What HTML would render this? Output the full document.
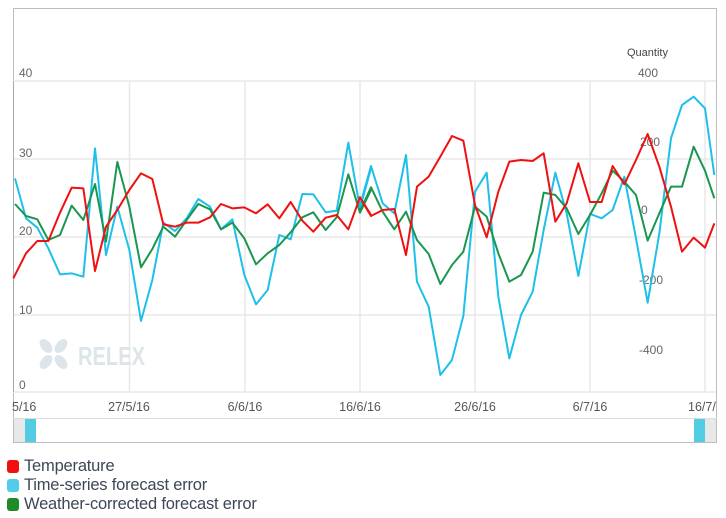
<!DOCTYPE html>
<html><head><meta charset="utf-8"><style>
body{margin:0;background:#fff;width:726px;height:518px;overflow:hidden;font-family:"Liberation Sans",sans-serif}
.lg{position:absolute;left:7px;font-size:16.5px;color:#3d4756;letter-spacing:-0.2px}
.lg i{display:inline-block;width:12px;height:13px;border-radius:3px;vertical-align:-2px;margin-right:5px}
</style></head><body>
<svg width="726" height="518" style="position:absolute;left:0;top:0" font-family="Liberation Sans, sans-serif">
<defs><clipPath id="c"><rect x="12" y="8" width="704" height="434"/></clipPath></defs>
<rect x="13.5" y="8.5" width="703" height="434" fill="#fff" stroke="#bdbdbd"/>
<g stroke="#e8e8e8" stroke-width="1.5">
<line x1="13" y1="81" x2="716" y2="81"/><line x1="13" y1="159" x2="716" y2="159"/>
<line x1="13" y1="237" x2="716" y2="237"/><line x1="13" y1="315" x2="716" y2="315"/>
<line x1="13" y1="392" x2="716" y2="392"/>
<line x1="129.5" y1="81" x2="129.5" y2="392"/><line x1="245" y1="81" x2="245" y2="392"/>
<line x1="360" y1="81" x2="360" y2="392"/><line x1="475" y1="81" x2="475" y2="392"/>
<line x1="590" y1="81" x2="590" y2="392"/><line x1="705" y1="81" x2="705" y2="392"/>
</g>
<line x1="13.5" y1="81" x2="13.5" y2="392" stroke="#aaa"/>
<g fill="#dbe5ea">
<text x="78" y="365" font-size="26" font-weight="bold" textLength="67" lengthAdjust="spacingAndGlyphs">RELEX</text>
<ellipse cx="46" cy="346" rx="5" ry="8" transform="rotate(-40 46 346)"/><ellipse cx="61" cy="346" rx="5" ry="8" transform="rotate(40 61 346)"/>
<ellipse cx="46" cy="362" rx="5" ry="8" transform="rotate(40 46 362)"/><ellipse cx="61" cy="362" rx="5" ry="8" transform="rotate(-40 61 362)"/>
</g>
<g font-size="12" fill="#666">
<text x="19" y="77">40</text><text x="19" y="157">30</text><text x="19" y="235">20</text><text x="19" y="314">10</text><text x="19" y="389">0</text>
<text x="627" y="56" font-size="11" fill="#444">Quantity</text>
<text x="638" y="77">400</text><text x="640" y="146">200</text><text x="641" y="214">0</text><text x="639" y="284">-200</text><text x="639" y="354">-400</text>
</g>
<g font-size="12.5" fill="#555" text-anchor="middle" clip-path="url(#c)">
<text x="12" y="411" text-anchor="start">5/16</text><text x="129" y="411">27/5/16</text><text x="245" y="411">6/6/16</text><text x="360" y="411">16/6/16</text><text x="475" y="411">26/6/16</text><text x="590" y="411">6/7/16</text><text x="688" y="411" text-anchor="start">16/7/16</text>
</g>
<g fill="none" stroke-width="2" stroke-linejoin="round" clip-path="url(#c)">
<g transform="translate(0,130) scale(0.33333)">
<polyline vector-effect="non-scaling-stroke" stroke="#1ec0ea" points="45,145 78,265 112,293 145,355 180,433 215,430 250,440 285,55 318,375 352,230 388,360 423,573 457,450 490,278 525,303 560,265 595,207 630,230 663,298 697,268 733,435 768,523 803,480 838,315 872,328 907,192 940,193 977,247 1010,242 1045,38 1080,235 1113,115"/>
<polyline vector-effect="non-scaling-stroke" stroke="#1a9650" points="45,222 78,258 112,268 145,330 180,315 215,227 250,270 285,162 318,335 352,96 388,230 423,412 457,357 490,290 525,320 560,270 595,222 630,238 663,298 697,278 733,325 768,403 803,370 838,345 872,307 907,262 940,247 977,300 1010,262 1045,133 1080,248 1113,180"/>
<polyline vector-effect="non-scaling-stroke" stroke="#f01010" points="40,445 78,370 112,333 145,333 180,248 215,173 250,175 285,423 318,290 352,240 388,180 423,130 457,147 490,283 525,290 560,278 595,278 630,262 663,222 697,235 733,232 768,250 803,223 838,265 872,216 907,272 940,305 977,263 1010,255 1045,298 1080,202 1113,255"/>
</g>
<g transform="translate(356,80) scale(0.33333)">
<polyline vector-effect="non-scaling-stroke" stroke="#1ec0ea" points="10,384 45,258 80,370 115,400 150,225 183,605 218,680 253,885 288,840 322,708 357,335 392,278 427,650 460,835 495,705 530,635 563,450 598,278 632,400 667,588 702,402 737,415 770,390 805,290 840,475 875,668 910,460 945,175 978,75 1013,50 1047,85 1075,285"/>
<polyline vector-effect="non-scaling-stroke" stroke="#1a9650" points="10,398 45,322 80,395 115,448 150,395 183,480 218,522 253,612 288,555 322,515 357,380 392,410 427,520 460,605 495,585 530,515 563,338 598,345 632,385 667,462 702,405 737,340 770,272 805,305 840,345 875,482 910,400 945,320 978,320 1013,200 1047,272 1075,355"/>
<polyline vector-effect="non-scaling-stroke" stroke="#f01010" points="10,350 45,408 80,390 115,387 150,525 183,320 218,290 253,230 288,168 322,182 357,375 392,472 427,335 460,245 495,240 530,243 563,220 598,425 632,370 667,250 702,366 737,366 770,258 805,313 840,240 875,162 910,260 945,380 978,515 1013,473 1047,503 1075,430"/>
</g>
</g>
<line x1="13" y1="418.5" x2="717" y2="418.5" stroke="#ddd"/>
<rect x="14" y="419" width="11" height="23" fill="#e8e8e8"/>
<rect x="705" y="419" width="11" height="23" fill="#e8e8e8"/>
<rect x="25" y="419" width="11" height="23" fill="#52cce2"/>
<rect x="694" y="419" width="11" height="23" fill="#52cce2"/>
</svg>
<div class="lg" style="top:457px"><i style="background:#f01010"></i>Temperature</div>
<div class="lg" style="top:476px"><i style="background:#52cce9"></i>Time-series forecast error</div>
<div class="lg" style="top:495px"><i style="background:#1e8a28"></i>Weather-corrected forecast error</div>
</body></html>
